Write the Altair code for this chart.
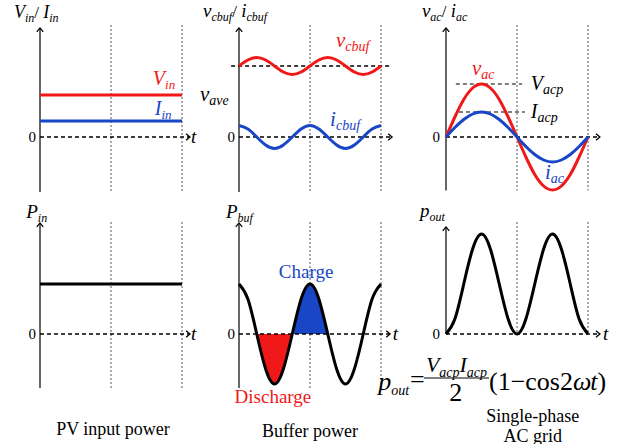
import altair as alt
import pandas as pd

# ---------------- data (x = electrical angle ωt in degrees, y in arbitrary units) ----------------
theta = [0, 22.5, 45, 67.5, 90, 112.5, 135, 157.5, 180,
         202.5, 225, 247.5, 270, 292.5, 315, 337.5, 360]
v_in_level = 4.2
i_in_level = 1.6
v_cbuf = [7.1, 7.7, 7.95, 7.7, 7.1, 6.5, 6.25, 6.5, 7.1, 7.7, 7.95, 7.7, 7.1, 6.5, 6.25, 6.5, 7.1]
v_ave = 7.1
i_cbuf = [1.15, 0.8, 0, -0.8, -1.15, -0.8, 0, 0.8, 1.15, 0.8, 0, -0.8, -1.15, -0.8, 0, 0.8, 1.15]
v_ac = [0, 2.0, 3.75, 4.9, 5.3, 4.9, 3.75, 2.0, 0, -2.0, -3.75, -4.9, -5.3, -4.9, -3.75, -2.0, 0]
i_ac = [0, 0.95, 1.75, 2.3, 2.5, 2.3, 1.75, 0.95, 0, -0.95, -1.75, -2.3, -2.5, -2.3, -1.75, -0.95, 0]
v_acp = 5.3
i_acp = 2.5
p_in_level = 5.0
p_buf = [5.0, 3.5, 0, -3.5, -5.0, -3.5, 0, 3.5, 5.0, 3.5, 0, -3.5, -5.0, -3.5, 0, 3.5, 5.0]
p_out = [0, 1.5, 5.0, 8.5, 10.0, 8.5, 5.0, 1.5, 0, 1.5, 5.0, 8.5, 10.0, 8.5, 5.0, 1.5, 0]
half_periods = [180, 360]
captions = ["PV input power", "Buffer power", "Single-phase", "AC grid"]

# ---------------- style / layout ----------------
RED = "#F01818"
BLUE = "#1846C6"
BLACK = "#000000"
GRID = "#555555"
FONT = "Liberation Serif"

PXD = 71 / 180   # px per degree
PXU = 10         # px per unit
COLS = [(200, 40), (210, 39), (213, 36)]   # panel width, axis offset
ROWS = [(200, 137), (244, 134)]            # panel height, zero offset

WI = {'V': .611, 'I': .333, 'P': .611, 'i': .278, 'n': .5, 'v': .444, 'c': .444, 'b': .5,
      'u': .5, 'f': .278, 'a': .5, 'e': .444, 'p': .5, 'o': .5, 't': .278, 'ω': .667,
      '/': .278, ' ': .25}
WR = {'(': .333, ')': .333, '1': .5, '2': .5, '−': .564, 'c': .444, 'o': .5, 's': .389,
      '/': .278, ' ': .25, '0': .5, '=': .564}

ARROW = "M -1 0.6 L 0 -0.6 L 1 0.6"


def run(t, y, pieces, color):
    rows, x = [], 0.0
    for txt, style, size, dy in pieces:
        rows.append(dict(t=t + x / PXD, y=y - dy / PXU, text=txt, size=size,
                         color=color, style=style))
        table = WI if style == 'i' else WR
        x += sum(table.get(ch, .5) for ch in txt) * size
    return rows


class Panel:
    def __init__(self, col, row):
        w, o = COLS[col]
        h, z = ROWS[row]
        self.w, self.h = w, h
        self.xs = alt.Scale(domain=[-o / PXD, (w - o) / PXD], nice=False, zero=False)
        self.ys = alt.Scale(domain=[-(h - z) / PXU, z / PXU], nice=False, zero=False)
        self.layers = []

    def X(self, f='t'):
        return alt.X(f + ':Q', scale=self.xs, axis=None, title=None)

    def Y(self, f='y'):
        return alt.Y(f + ':Q', scale=self.ys, axis=None, title=None)

    def vrule(self, ts, y1, y2, color=BLACK, width=1.2, dash=None):
        df = pd.DataFrame({'t': ts, 'y': [y1] * len(ts), 'y2': [y2] * len(ts)})
        kw = dict(color=color, strokeWidth=width)
        if dash:
            kw['strokeDash'] = dash
        self.layers.append(alt.Chart(df).mark_rule(**kw).encode(
            x=self.X(), y=self.Y(), y2=alt.Y2('y2:Q')))

    def hrule(self, t1, t2, y, color=BLACK, width=1.5, dash=None):
        df = pd.DataFrame({'t': [t1], 't2': [t2], 'y': [y]})
        kw = dict(color=color, strokeWidth=width)
        if dash:
            kw['strokeDash'] = dash
        self.layers.append(alt.Chart(df).mark_rule(**kw).encode(
            x=self.X(), x2=alt.X2('t2:Q'), y=self.Y()))

    def curve(self, ts, ys, color, width=3):
        df = pd.DataFrame({'t': ts, 'y': ys})
        self.layers.append(alt.Chart(df).mark_line(
            color=color, strokeWidth=width, interpolate='natural').encode(
            x=self.X(), y=self.Y()))

    def fill(self, ts, ys, color):
        df = pd.DataFrame({'t': ts, 'y': ys, 'y0': [0] * len(ts)})
        self.layers.append(alt.Chart(df).mark_area(
            color=color, opacity=1, interpolate='natural').encode(
            x=self.X(), y=self.Y(), y2=alt.Y2('y0:Q')))

    def arrows(self, pts):
        df = pd.DataFrame(pts, columns=['t', 'y', 'angle'])
        self.layers.append(alt.Chart(df).mark_point(
            shape=ARROW, filled=False, stroke=BLACK, strokeWidth=1.3, size=42,
            opacity=1).encode(x=self.X(), y=self.Y(),
                              angle=alt.Angle('angle:Q', scale=None)))

    def texts(self, rows, italic=False, align='left', baseline='alphabetic'):
        if not rows:
            return
        df = pd.DataFrame(rows)
        kw = dict(font=FONT, align=align, baseline=baseline)
        if italic:
            kw['fontStyle'] = 'italic'
        self.layers.append(alt.Chart(df).mark_text(**kw).encode(
            x=self.X(), y=self.Y(), text='text:N',
            size=alt.Size('size:Q', scale=None),
            color=alt.Color('color:N', scale=None)))

    def runs(self, *runs_):
        rows = [r for rr in runs_ for r in rr]
        self.texts([r for r in rows if r['style'] == 'i'], italic=True)
        self.texts([r for r in rows if r['style'] == 'r'], italic=False)

    def axes(self, top, bottom, xend, zero_label_t, t_label=None):
        self.vrule([0], top, bottom, width=1.2)
        self.hrule(0, xend, 0, width=1.5, dash=[4, 3])
        self.arrows([(0, top - 1.9 / PXU, 0), (xend - 1.9 / PXD, 0, 90)])
        self.texts([dict(t=zero_label_t, y=0, text='0', size=15, color=BLACK)],
                   align='right', baseline='middle')
        if t_label is not None:
            self.texts([dict(t=t_label, y=0, text='t', size=19, color=BLACK)],
                       italic=True, align='left', baseline='middle')

    def chart(self):
        return alt.layer(*self.layers).properties(width=self.w, height=self.h)


# ---------------- Panel 1: V_in / I_in ----------------
p1 = Panel(0, 0)
p1.vrule(half_periods, 11.2, -5.6, color=GRID, width=1, dash=[2, 2])
p1.axes(10.9, -5.5, 380, -10, t_label=383)
p1.curve([0, 360], [v_in_level, v_in_level], RED)
p1.curve([0, 360], [i_in_level, i_in_level], BLUE)
p1.runs(run(-66, 11.9, [("V", 'i', 18, 0), ("in", 'i', 12, 4), ("/ ", 'r', 17, 0),
                        ("I", 'i', 18, 0), ("in", 'i', 12, 4)], BLACK),
        run(286, 5.2, [("V", 'i', 20, 0), ("in", 'i', 13, 4)], RED),
        run(291, 2.2, [("I", 'i', 20, 0), ("in", 'i', 13, 4)], BLUE))

# ---------------- Panel 2: v_cbuf / i_cbuf ----------------
p2 = Panel(1, 0)
p2.vrule(half_periods, 11.2, -5.6, color=GRID, width=1, dash=[2, 2])
p2.axes(10.9, -5.5, 388, -10)
p2.hrule(-20, 388, v_ave, width=1.5, dash=[4, 3])
p2.curve(theta, v_cbuf, RED)
p2.curve(theta, i_cbuf, BLUE)
p2.runs(run(-91, 12.0, [("v", 'i', 19, 0), ("cbuf", 'i', 12, 4), ("/ ", 'r', 17, 0),
                        ("i", 'i', 19, 0), ("cbuf", 'i', 12, 4)], BLACK),
        run(246, 9.0, [("v", 'i', 21, 0), ("cbuf", 'i', 14, 4)], RED),
        run(231, 1.1, [("i", 'i', 21, 0), ("cbuf", 'i', 14, 4)], BLUE),
        run(-99, 3.6, [("v", 'i', 21, 0), ("ave", 'i', 14, 4)], BLACK))

# ---------------- Panel 3: v_ac / i_ac ----------------
p3 = Panel(2, 0)
p3.vrule(half_periods, 11.2, -5.35, color=GRID, width=1, dash=[2, 2])
p3.axes(10.9, -5.35, 390, -15)
p3.hrule(25, 193, v_acp, width=1.2, dash=[4, 3])
p3.hrule(33, 200, i_acp, width=1.2, dash=[4, 3])
p3.curve(theta, v_ac, RED)
p3.curve(theta, i_ac, BLUE)
p3.runs(run(-61, 12.0, [("v", 'i', 19, 0), ("ac", 'i', 12, 4), ("/ ", 'r', 17, 0),
                        ("i", 'i', 19, 0), ("ac", 'i', 12, 4)], BLACK),
        run(66, 6.2, [("v", 'i', 21, 0), ("ac", 'i', 14, 4)], RED),
        run(215, 4.7, [("V", 'i', 20, 0), ("acp", 'i', 14, 4)], BLACK),
        run(215, 1.9, [("I", 'i', 20, 0), ("acp", 'i', 14, 4)], BLACK),
        run(251, -4.2, [("i", 'i', 21, 0), ("ac", 'i', 14, 4)], BLUE))

# ---------------- Panel 4: P_in ----------------
p4 = Panel(0, 1)
p4.vrule(half_periods, 11.2, -5.4, color=GRID, width=1, dash=[2, 2])
p4.axes(11.1, -5.4, 380, -10, t_label=383)
p4.curve([0, 360], [p_in_level, p_in_level], BLACK)
p4.runs(run(-35, 11.6, [("P", 'i', 19, 0), ("in", 'i', 12, 4)], BLACK))
p4.texts([dict(t=185, y=-9.6, text=captions[0], size=18, color=BLACK)],
         align='center', baseline='middle')

# ---------------- Panel 5: P_buf ----------------
p5 = Panel(1, 1)
p5.vrule(half_periods, 11.2, -5.4, color=GRID, width=1, dash=[2, 2])
p5.fill(theta[2:7], p_buf[2:7], RED)
p5.fill(theta[6:11], p_buf[6:11], BLUE)
p5.axes(11.1, -5.4, 383, -10, t_label=390)
p5.curve(theta, p_buf, BLACK)
p5.runs(run(-33, 11.6, [("P", 'i', 19, 0), ("buf", 'i', 12, 4)], BLACK))
p5.texts([dict(t=170, y=6.2, text="Charge", size=19, color=BLUE),
          dict(t=86, y=-6.3, text="Discharge", size=19, color=RED),
          dict(t=180, y=-9.8, text=captions[1], size=18, color=BLACK)],
         align='center', baseline='middle')

# ---------------- Panel 6: p_out ----------------
p6 = Panel(2, 1)
p6.vrule(half_periods, 11.2, 0, color=GRID, width=1, dash=[2, 2])
p6.axes(10.7, 0, 390, -15, t_label=398)
p6.curve(theta, p_out, BLACK)
p6.runs(run(-66, 11.7, [("p", 'i', 19, 0), ("out", 'i', 12, 4)], BLACK),
        run(-172, -5.6, [("p", 'i', 26, 0), ("out", 'i', 14, 5)], BLACK),
        run(-91, -5.4, [("=", 'r', 26, 0)], BLACK),
        run(-51, -3.8, [("V", 'i', 22, 0), ("acp", 'i', 14, 5),
                        ("I", 'i', 22, 0), ("acp", 'i', 14, 5)], BLACK),
        run(109, -5.6, [("(1−cos2", 'r', 26, 0), ("ω", 'i', 26, 0),
                        ("t", 'i', 26, 0), (")", 'r', 26, 0)], BLACK))
p6.hrule(-56, 109, -4.4, width=1.2)
p6.texts([dict(t=25, y=-6.7, text="2", size=26, color=BLACK)],
         align='center', baseline='alphabetic')
p6.texts([dict(t=220, y=-8.3, text=captions[2], size=18, color=BLACK),
          dict(t=220, y=-10.25, text=captions[3], size=18, color=BLACK)],
         align='center', baseline='middle')

chart = (alt.concat(p1.chart(), p2.chart(), p3.chart(),
                    p4.chart(), p5.chart(), p6.chart(),
                    columns=3, spacing=0, bounds='flush')
         .properties(padding=0, background='white')
         .configure_view(stroke=None))

chart.save("out.html", embed_options={"renderer": "svg", "actions": False})
